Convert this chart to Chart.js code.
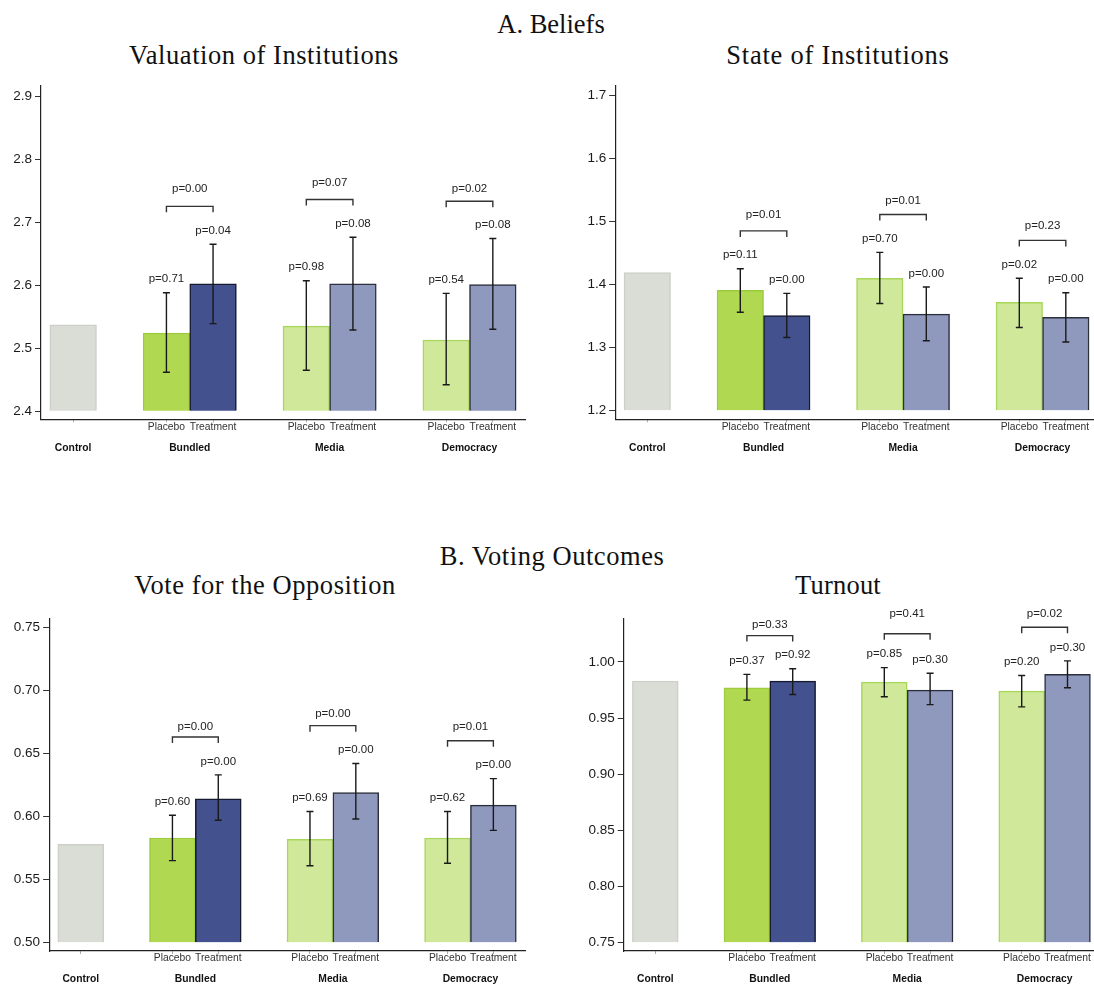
<!DOCTYPE html>
<html><head><meta charset="utf-8">
<script src="https://cdn.jsdelivr.net/npm/chart.js@4.4.1/dist/chart.umd.min.js"></script>
<style>
html,body{margin:0;padding:0;background:#fff;overflow:hidden;}
#wrap{position:relative;width:1094px;height:986px;overflow:hidden;background:#fff;}
.t{position:absolute;font-family:"Liberation Serif","Times New Roman",serif;font-size:26.5px;line-height:26px;color:#111;white-space:nowrap;transform:translateX(-50%);}
canvas{position:absolute;}
</style></head><body><div id="wrap">
<div class="t" style="left:551px;top:11px;letter-spacing:0px">A. Beliefs</div>
<div class="t" style="left:264px;top:42px;letter-spacing:0.55px">Valuation of Institutions</div>
<div class="t" style="left:838px;top:42px;letter-spacing:0.75px">State of Institutions</div>
<div class="t" style="left:552px;top:543px;letter-spacing:0.55px">B. Voting Outcomes</div>
<div class="t" style="left:265px;top:572px;letter-spacing:0.55px">Vote for the Opposition</div>
<div class="t" style="left:838px;top:572px;letter-spacing:0.2px">Turnout</div>
<canvas id="c1"></canvas><canvas id="c2"></canvas><canvas id="c3"></canvas><canvas id="c4"></canvas>
</div>
<script>
// ---------- data ----------
const groups = ['Control', 'Bundled', 'Media', 'Democracy'];
const armLabels = ['Placebo', 'Treatment'];
// bar slots on the x scale: Control, Bundled P/T, Media P/T, Democracy P/T
const slots = [0, 2, 3, 5, 6, 8, 9];

// Valuation of Institutions
const valTicks = ['2.4', '2.5', '2.6', '2.7', '2.8', '2.9'];
const valMeans = [2.537, 2.524, 2.602, 2.535, 2.602, 2.513, 2.601];
const valLo    = [null, 2.462, 2.539, 2.465, 2.529, 2.442, 2.530];
const valHi    = [null, 2.588, 2.665, 2.607, 2.676, 2.587, 2.674];
const valP     = ['', 'p=0.71', 'p=0.04', 'p=0.98', 'p=0.08', 'p=0.54', 'p=0.08'];
const valDiffP = ['p=0.00', 'p=0.07', 'p=0.02'];
const valBracket = [2.725, 2.736, 2.733];
const valBracketLabel = [2.753, 2.762, 2.753];

// State of Institutions
const stTicks = ['1.2', '1.3', '1.4', '1.5', '1.6', '1.7'];
const stMeans = [1.419, 1.391, 1.351, 1.410, 1.353, 1.372, 1.348];
const stLo    = [null, 1.356, 1.316, 1.370, 1.311, 1.332, 1.309];
const stHi    = [null, 1.425, 1.386, 1.451, 1.396, 1.410, 1.387];
const stP     = ['', 'p=0.11', 'p=0.00', 'p=0.70', 'p=0.00', 'p=0.02', 'p=0.00'];
const stDiffP = ['p=0.01', 'p=0.01', 'p=0.23'];
const stBracket = [1.485, 1.511, 1.470];
const stBracketLabel = [1.511, 1.532, 1.493];

// Vote for the Opposition
const voTicks = ['0.50', '0.55', '0.60', '0.65', '0.70', '0.75'];
const voMeans = [0.578, 0.583, 0.614, 0.582, 0.619, 0.583, 0.609];
const voLo    = [null, 0.565, 0.597, 0.561, 0.598, 0.563, 0.589];
const voHi    = [null, 0.601, 0.633, 0.604, 0.642, 0.604, 0.630];
const voP     = ['', 'p=0.60', 'p=0.00', 'p=0.69', 'p=0.00', 'p=0.62', 'p=0.00'];
const voDiffP = ['p=0.00', 'p=0.00', 'p=0.01'];
const voBracket = [0.663, 0.672, 0.660];
const voBracketLabel = [0.671, 0.681, 0.671];

// Turnout
const tuTicks = ['0.75', '0.80', '0.85', '0.90', '0.95', '1.00'];
const tuMeans = [0.983, 0.977, 0.983, 0.982, 0.975, 0.974, 0.989];
const tuLo    = [null, 0.966, 0.971, 0.969, 0.962, 0.960, 0.977];
const tuHi    = [null, 0.989, 0.994, 0.995, 0.990, 0.988, 1.001];
const tuP     = ['', 'p=0.37', 'p=0.92', 'p=0.85', 'p=0.30', 'p=0.20', 'p=0.30'];
const tuDiffP = ['p=0.33', 'p=0.41', 'p=0.02'];
const tuBracket = [1.0235, 1.0252, 1.0309];
const tuBracketLabel = [1.033, 1.0425, 1.0428];

// ---------- style ----------
const fills   = ['#dadcd6', '#b0d951', '#43518e', '#d0e899', '#8f98bd', '#d0e899', '#8f98bd'];
const borders = ['#cdd0c8', '#9ccc3c', '#161a2e', '#a8d65a', '#2c2f3c', '#a8d65a', '#2c2f3c'];
const SANS = '"Liberation Sans", Arial, Helvetica, sans-serif';

function annotPlugin(d) {
  return {
    id: 'annot',
    afterDatasetsDraw(chart) {
      const {ctx, scales: {x, y}, chartArea} = chart;
      ctx.save();
      ctx.textAlign = 'center';
      ctx.textBaseline = 'middle';
      // error bars + p-values
      for (let i = 0; i < slots.length; i++) {
        if (d.lo[i] == null) continue;
        const px = x.getPixelForValue(slots[i]);
        const y1 = y.getPixelForValue(d.lo[i]);
        const y2 = y.getPixelForValue(d.hi[i]);
        ctx.strokeStyle = '#1a1a1a';
        ctx.lineWidth = 1.4;
        ctx.beginPath();
        ctx.moveTo(px, y1); ctx.lineTo(px, y2);
        ctx.moveTo(px - 3.5, y1); ctx.lineTo(px + 3.5, y1);
        ctx.moveTo(px - 3.5, y2); ctx.lineTo(px + 3.5, y2);
        ctx.stroke();
        ctx.fillStyle = '#222';
        ctx.font = '11.5px ' + SANS;
        ctx.fillText(d.p[i], px, y2 - 13.5);
      }
      // brackets
      for (let g = 0; g < 3; g++) {
        const a = x.getPixelForValue(slots[1 + 2 * g]);
        const b = x.getPixelForValue(slots[2 + 2 * g]);
        const by = y.getPixelForValue(d.bracket[g]);
        ctx.strokeStyle = '#333';
        ctx.lineWidth = 1.4;
        ctx.beginPath();
        ctx.moveTo(a, by + 6); ctx.lineTo(a, by); ctx.lineTo(b, by); ctx.lineTo(b, by + 6);
        ctx.stroke();
        ctx.fillStyle = '#222';
        ctx.font = '11.5px ' + SANS;
        ctx.fillText(d.diffP[g], (a + b) / 2, y.getPixelForValue(d.bracketLabel[g]));
      }
      // x labels
      const yb = chartArea.bottom;
      ctx.fillStyle = '#333';
      ctx.font = '10.3px ' + SANS;
      for (let i = 1; i < slots.length; i++) {
        ctx.fillText(armLabels[(i - 1) % 2], x.getPixelForValue(slots[i]), yb + 7.5);
      }
      ctx.fillStyle = '#111';
      ctx.font = 'bold 10.3px ' + SANS;
      ctx.fillText(groups[0], x.getPixelForValue(slots[0]), yb + 28.5);
      for (let g = 1; g < groups.length; g++) {
        const c = (slots[2 * g - 1] + slots[2 * g]) / 2;
        ctx.fillText(groups[g], x.getPixelForValue(c), yb + 28.5);
      }
      ctx.restore();
    }
  };
}

function makePanel(id, d, box, area) {
  const cv = document.getElementById(id);
  cv.width = box.w; cv.height = box.h;
  cv.style.left = box.x + 'px'; cv.style.top = box.y + 'px';
  cv.style.width = box.w + 'px'; cv.style.height = box.h + 'px';
  const L = area.l - box.x, R = area.r - box.x, T = area.t - box.y, B = area.b - box.y;
  const tickVals = d.ticks.map(parseFloat);
  new Chart(cv, {
    type: 'bar',
    data: {
      datasets: [{
        data: slots.map((s, i) => ({x: s, y: d.means[i]})),
        base: tickVals[0],
        backgroundColor: fills,
        borderColor: borders,
        borderWidth: 1.5,
        categoryPercentage: 1,
        barPercentage: 1
      }]
    },
    options: {
      responsive: false,
      animation: false,
      devicePixelRatio: 1,
      layout: {autoPadding: false, padding: {left: 0, top: T, right: box.w - R, bottom: box.h - B - 4}},
      plugins: {legend: {display: false}, tooltip: {enabled: false}, title: {display: false}},
      scales: {
        x: {
          type: 'linear', min: -0.69, max: 9.69, offset: false,
          afterBuildTicks: s => { s.ticks = slots.map(v => ({value: v})); },
          afterFit: s => { s.height = 4; },
          ticks: {display: false},
          grid: {display: true, drawOnChartArea: false, drawTicks: true, tickLength: 3, color: '#aaa', offset: false},
          border: {display: true, color: '#222', width: 1.2}
        },
        y: {
          type: 'linear', min: d.yMin, max: d.yMax,
          afterBuildTicks: s => { s.ticks = tickVals.map(v => ({value: v})); },
          afterFit: s => { s.width = L; },
          ticks: {
            callback: (v, i) => d.ticks[i],
            font: {family: SANS, size: 13.5}, color: '#1a1a1a', padding: 3
          },
          grid: {drawOnChartArea: false, drawTicks: true, tickLength: 6, color: '#333'},
          border: {display: true, color: '#222', width: 1.2}
        }
      }
    },
    plugins: [annotPlugin(d)]
  });
}

makePanel('c1',
  {ticks: valTicks, means: valMeans, lo: valLo, hi: valHi, p: valP, diffP: valDiffP,
   bracket: valBracket, bracketLabel: valBracketLabel, yMin: 2.3873, yMax: 2.9159},
  {x: 0, y: 70, w: 547, h: 400}, {l: 41, r: 525, t: 86, b: 419.3});
makePanel('c2',
  {ticks: stTicks, means: stMeans, lo: stLo, hi: stHi, p: stP, diffP: stDiffP,
   bracket: stBracket, bracketLabel: stBracketLabel, yMin: 1.1864, yMax: 1.7147},
  {x: 560, y: 70, w: 545, h: 400}, {l: 615.2, r: 1097.9, t: 86, b: 419.3});
makePanel('c3',
  {ticks: voTicks, means: voMeans, lo: voLo, hi: voHi, p: voP, diffP: voDiffP,
   bracket: voBracket, bracketLabel: voBracketLabel, yMin: 0.4934, yMax: 0.7571},
  {x: 0, y: 600, w: 547, h: 386}, {l: 49.1, r: 525, t: 618.3, b: 951});
makePanel('c4',
  {ticks: tuTicks, means: tuMeans, lo: tuLo, hi: tuHi, p: tuP, diffP: tuDiffP,
   bracket: tuBracket, bracketLabel: tuBracketLabel, yMin: 0.7426, yMax: 1.0389},
  {x: 560, y: 596, w: 545, h: 390}, {l: 623.7, r: 1099.1, t: 618.3, b: 951});
</script>
</body></html>
